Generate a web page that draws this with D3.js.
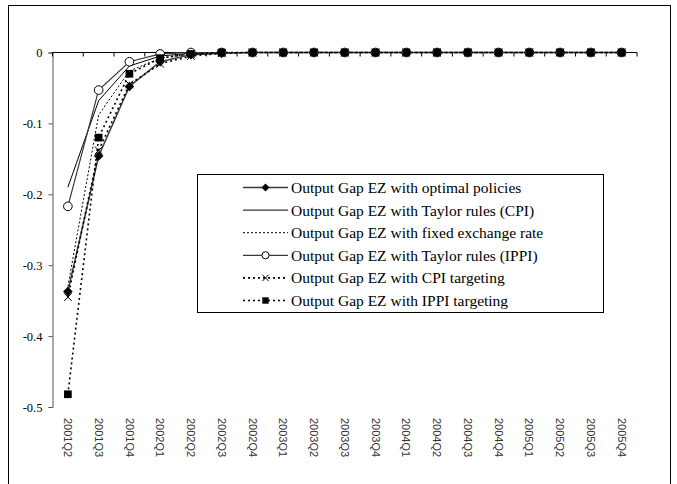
<!DOCTYPE html>
<html>
<head>
<meta charset="utf-8">
<script src="https://cdn.jsdelivr.net/npm/d3@7/dist/d3.min.js"></script>
<style>
  body { margin: 0; background: #fff; }
  svg { display: block; }
</style>
</head>
<body>
<svg id="chart" width="677" height="484"></svg>
<script>
const categories = ["2001Q2","2001Q3","2001Q4","2002Q1","2002Q2","2002Q3","2002Q4","2003Q1","2003Q2","2003Q3","2003Q4","2004Q1","2004Q2","2004Q3","2004Q4","2005Q1","2005Q2","2005Q3","2005Q4"];
const yTicks = [0, -0.1, -0.2, -0.3, -0.4, -0.5];
const yTickLabels = ["0", "-0.1", "-0.2", "-0.3", "-0.4", "-0.5"];

const optimalPolicies = [-0.337, -0.146, -0.048, -0.013, -0.003, -0.001, 0, 0, 0, 0, 0, 0, 0, 0, 0, 0, 0, 0, 0];
const taylorCPI       = [-0.190, -0.068, -0.019, -0.005, -0.001, 0, 0, 0, 0, 0, 0, 0, 0, 0, 0, 0, 0, 0, 0];
const fixedExchange   = [-0.330, -0.088, -0.026, -0.008, -0.002, 0, 0, 0, 0, 0, 0, 0, 0, 0, 0, 0, 0, 0, 0];
const taylorIPPI      = [-0.217, -0.053, -0.013, -0.002, 0, 0, 0, 0, 0, 0, 0, 0, 0, 0, 0, 0, 0, 0, 0];
const cpiTargeting    = [-0.345, -0.138, -0.045, -0.016, -0.005, -0.001, 0, 0, 0, 0, 0, 0, 0, 0, 0, 0, 0, 0, 0];
const ippiTargeting   = [-0.482, -0.120, -0.030, -0.008, -0.002, 0, 0, 0, 0, 0, 0, 0, 0, 0, 0, 0, 0, 0, 0];

const seriesNames = [
  "Output Gap EZ with optimal policies",
  "Output Gap EZ with Taylor rules (CPI)",
  "Output Gap EZ with fixed exchange rate",
  "Output Gap EZ with Taylor rules (IPPI)",
  "Output Gap EZ with CPI targeting",
  "Output Gap EZ with IPPI targeting"
];
const seriesValues = [optimalPolicies, taylorCPI, fixedExchange, taylorIPPI, cpiTargeting, ippiTargeting];
const seriesStyle = [
  {stroke: "#3a3a3a", width: 1.5, dash: null, marker: "diamond"},
  {stroke: "#000", width: 1, dash: null, marker: null},
  {stroke: "#000", width: 1, dash: "2,2", marker: null},
  {stroke: "#3a3a3a", width: 1.2, dash: null, marker: "circle"},
  {stroke: "#000", width: 1.6, dash: "2,3", marker: "cross"},
  {stroke: "#000", width: 1.6, dash: "2,3", marker: "square"}
];

const svg = d3.select("#chart");
const serif = "'Liberation Serif', 'Times New Roman', serif";
const sans = "'Liberation Sans', Arial, sans-serif";

// outer frame
svg.append("rect").attr("x", 8.5).attr("y", 5.5).attr("width", 662).attr("height", 490)
  .attr("fill", "none").attr("stroke", "#000").attr("stroke-width", 1);

const x = d3.scaleBand().domain(categories).range([52.5, 637]).padding(0);
const y = d3.scaleLinear().domain([-0.5, 0]).range([407, 52.5]);
const cx = d => x(d) + x.bandwidth() / 2;

// y axis
const yAxis = svg.append("g").attr("transform", "translate(52.5,0)")
  .call(d3.axisLeft(y).tickValues(yTicks).tickSize(4).tickFormat((d, i) => yTickLabels[i]));
yAxis.attr("font-family", null).attr("font-size", null);
yAxis.select(".domain").attr("stroke", "#555");
yAxis.selectAll(".tick line").attr("stroke", "#555");
yAxis.selectAll("text").style("font-family", serif).style("font-size", "12.5px").attr("fill", "#000").attr("x", -10);

// x axis at zero, ticks between categories
const xAxisG = svg.append("g");
xAxisG.append("line").attr("x1", 52.5).attr("x2", 637).attr("y1", y(0)).attr("y2", y(0)).attr("stroke", "#000");
const boundaries = categories.map(c => x(c)).concat([x(categories[categories.length - 1]) + x.bandwidth()]);
xAxisG.selectAll("line.tk").data(boundaries).enter().append("line").attr("class", "tk")
  .attr("x1", d => d).attr("x2", d => d).attr("y1", y(0)).attr("y2", y(0) + 4).attr("stroke", "#000");

// x labels at bottom, rotated
svg.append("g").selectAll("text").data(categories).enter().append("text")
  .attr("transform", d => `translate(${cx(d)},418) rotate(90)`)
  .attr("dy", "0.35em")
  .style("font-family", sans).style("font-size", "11px").attr("fill", "#333")
  .text(d => d);

// markers
function drawMarker(g, type, px, py, s) {
  if (type === "diamond") {
    g.append("path").attr("d", `M${px},${py - s}L${px + s},${py}L${px},${py + s}L${px - s},${py}Z`).attr("fill", "#000");
  } else if (type === "circle") {
    g.append("circle").attr("cx", px).attr("cy", py).attr("r", s * 0.9).attr("fill", "#fff").attr("stroke", "#000").attr("stroke-width", 1);
  } else if (type === "square") {
    g.append("rect").attr("x", px - s * 0.8).attr("y", py - s * 0.8).attr("width", s * 1.6).attr("height", s * 1.6).attr("fill", "#000");
  } else if (type === "cross") {
    const k = s * 0.8;
    g.append("path").attr("d", `M${px - k},${py - k}L${px + k},${py + k}M${px - k},${py + k}L${px + k},${py - k}`)
      .attr("stroke", "#000").attr("stroke-width", 1).attr("fill", "none");
  }
}

const line = d3.line().x((d, i) => cx(categories[i])).y(d => y(d));
const plot = svg.append("g");
seriesValues.forEach((vals, si) => {
  const st = seriesStyle[si];
  plot.append("path").datum(vals).attr("d", line).attr("fill", "none")
    .attr("stroke", st.stroke).attr("stroke-width", st.width)
    .attr("stroke-dasharray", st.dash);
});
seriesValues.forEach((vals, si) => {
  const st = seriesStyle[si];
  if (!st.marker) return;
  const g = plot.append("g");
  vals.forEach((v, i) => drawMarker(g, st.marker, cx(categories[i]), y(v), 4.8));
});

// legend
const lg = svg.append("g");
lg.append("rect").attr("x", 197.5).attr("y", 174.5).attr("width", 406).attr("height", 138)
  .attr("fill", "#fff").attr("stroke", "#000").attr("stroke-width", 1);
seriesNames.forEach((name, i) => {
  const st = seriesStyle[i];
  const ly = 187.5 + i * 22.6;
  lg.append("line").attr("x1", 243).attr("x2", 288).attr("y1", ly).attr("y2", ly)
    .attr("stroke", st.stroke).attr("stroke-width", st.width).attr("stroke-dasharray", st.dash);
  if (st.marker) drawMarker(lg, st.marker, 265.5, ly, 4);
  lg.append("text").attr("x", 291).attr("y", ly).attr("dy", "0.35em")
    .style("font-family", serif).style("font-size", "15.5px").attr("fill", "#000").text(name);
});
</script>
</body>
</html>
